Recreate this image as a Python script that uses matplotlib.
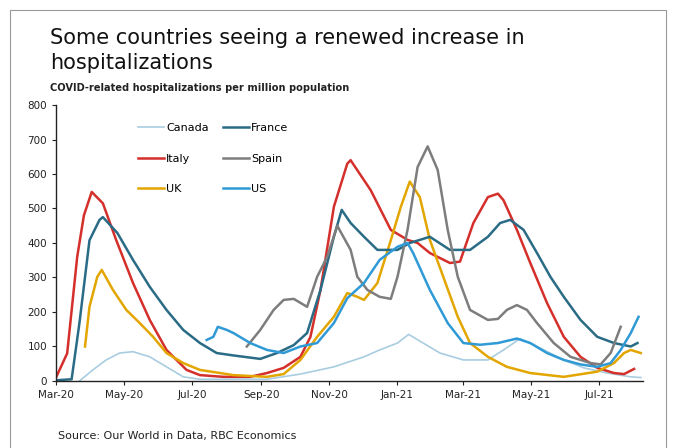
import matplotlib
matplotlib.use("Agg")
import matplotlib.pyplot as plt
import matplotlib.dates as mdates
from matplotlib.patches import Rectangle
import numpy as np
import pandas as pd

# values (hospitalizations per million)
italy_dates = ["2020-03-01", "2020-03-11", "2020-03-20", "2020-03-26", "2020-04-02", "2020-04-12",
               "2020-04-24", "2020-05-09", "2020-05-24", "2020-06-08", "2020-06-26", "2020-07-08",
               "2020-07-29", "2020-08-22", "2020-09-06", "2020-09-21", "2020-10-06", "2020-10-15",
               "2020-10-24", "2020-11-05", "2020-11-17", "2020-11-20", "2020-12-08", "2020-12-26",
               "2021-01-10", "2021-01-19", "2021-01-30", "2021-02-17", "2021-02-26", "2021-03-10",
               "2021-03-23", "2021-04-01", "2021-04-06", "2021-04-18", "2021-04-30", "2021-05-15",
               "2021-05-30", "2021-06-14", "2021-06-29", "2021-07-14", "2021-07-23", "2021-08-01"]
italy_vals = [10, 80, 360, 480, 548, 515, 408, 284, 177, 90, 32, 17, 12, 12, 23, 38, 70, 128,
              264, 505, 630, 640, 553, 438, 409, 400, 371, 342, 346, 458, 533, 543, 524, 438,
              342, 226, 128, 70, 38, 23, 20, 35]

france_dates = ["2020-03-01", "2020-03-15", "2020-03-22", "2020-03-31", "2020-04-09", "2020-04-12",
                "2020-04-25", "2020-05-09", "2020-05-24", "2020-06-08", "2020-06-23", "2020-07-08",
                "2020-07-23", "2020-08-07", "2020-08-31", "2020-09-15", "2020-09-30", "2020-10-12",
                "2020-10-24", "2020-11-05", "2020-11-12", "2020-11-20", "2020-12-02", "2020-12-14",
                "2021-01-01", "2021-01-12", "2021-01-30", "2021-02-17", "2021-03-07", "2021-03-23",
                "2021-04-03", "2021-04-12", "2021-04-24", "2021-05-06", "2021-05-18", "2021-05-30",
                "2021-06-14", "2021-06-29", "2021-07-14", "2021-07-29", "2021-08-04"]
france_vals = [2, 5, 168, 408, 467, 475, 429, 351, 273, 206, 148, 110, 81, 74, 64, 81, 104, 139,
               264, 418, 496, 458, 418, 380, 380, 400, 418, 380, 380, 418, 458, 467, 438, 371,
               302, 244, 177, 128, 110, 100, 110]

spain_dates = ["2020-08-19", "2020-08-31", "2020-09-12", "2020-09-21", "2020-09-30", "2020-10-12",
               "2020-10-21", "2020-10-30", "2020-11-08", "2020-11-20", "2020-11-26", "2020-12-05",
               "2020-12-16", "2020-12-26", "2021-01-01", "2021-01-10", "2021-01-19", "2021-01-28",
               "2021-02-06", "2021-02-15", "2021-02-24", "2021-03-07", "2021-03-23", "2021-04-01",
               "2021-04-09", "2021-04-18", "2021-04-27", "2021-05-06", "2021-05-21", "2021-06-05",
               "2021-06-23", "2021-07-02", "2021-07-11", "2021-07-20"]
spain_vals = [100, 148, 206, 235, 238, 215, 302, 360, 450, 380, 302, 264, 244, 238, 302, 438,
              620, 680, 612, 438, 302, 206, 177, 180, 206, 220, 206, 168, 110, 70, 52, 48, 81, 157]

uk_dates = ["2020-03-27", "2020-03-31", "2020-04-07", "2020-04-11", "2020-04-21", "2020-05-03",
            "2020-05-15", "2020-05-27", "2020-06-08", "2020-06-23", "2020-07-08", "2020-08-07",
            "2020-09-06", "2020-09-21", "2020-10-06", "2020-10-21", "2020-11-05", "2020-11-17",
            "2020-11-26", "2020-12-02", "2020-12-14", "2020-12-26", "2021-01-04", "2021-01-12",
            "2021-01-21", "2021-01-30", "2021-02-11", "2021-02-24", "2021-03-07", "2021-03-23",
            "2021-04-09", "2021-04-30", "2021-05-30", "2021-06-29", "2021-07-14", "2021-07-23",
            "2021-07-29", "2021-08-07"]
uk_vals = [100, 215, 302, 322, 264, 206, 168, 128, 81, 52, 32, 17, 12, 20, 61, 128, 186, 255,
           244, 235, 284, 408, 505, 578, 533, 409, 302, 186, 110, 70, 41, 23, 12, 27, 52, 81, 90, 81]

us_dates = ["2020-07-14", "2020-07-20", "2020-07-24", "2020-08-01", "2020-08-07", "2020-08-22",
            "2020-09-06", "2020-09-21", "2020-10-06", "2020-10-21", "2020-11-05", "2020-11-17",
            "2020-12-02", "2020-12-16", "2021-01-01", "2021-01-10", "2021-01-15", "2021-01-30",
            "2021-02-15", "2021-03-01", "2021-03-16", "2021-04-01", "2021-04-18", "2021-04-30",
            "2021-05-15", "2021-05-30", "2021-06-14", "2021-06-29", "2021-07-11", "2021-07-20",
            "2021-07-29", "2021-08-05"]
us_vals = [119, 128, 157, 148, 139, 110, 90, 81, 100, 110, 168, 240, 284, 351, 389, 400, 371,
           264, 168, 110, 105, 110, 123, 110, 81, 61, 48, 41, 52, 90, 139, 186]

canada_dates = ["2020-03-22", "2020-04-03", "2020-04-15", "2020-04-27", "2020-05-09", "2020-05-24",
                "2020-06-08", "2020-06-23", "2020-07-08", "2020-09-06", "2020-10-06", "2020-11-05",
                "2020-12-02", "2020-12-16", "2021-01-01", "2021-01-11", "2021-01-24", "2021-02-08",
                "2021-03-01", "2021-03-23", "2021-04-06", "2021-04-21", "2021-05-06", "2021-05-30",
                "2021-06-17", "2021-07-08", "2021-07-29", "2021-08-07"]
canada_vals = [0, 32, 61, 81, 85, 70, 41, 12, 5, 5, 20, 41, 70, 90, 110, 135, 110, 81, 61, 61,
               90, 123, 100, 61, 38, 23, 12, 10]

series = [
    ("Canada", canada_dates, canada_vals, "#a9cde0", 1.2),
    ("Italy", italy_dates, italy_vals, "#d42f2a", 1.8),
    ("UK", uk_dates, uk_vals, "#e3a600", 1.8),
    ("France", france_dates, france_vals, "#2a6b86", 1.8),
    ("Spain", spain_dates, spain_vals, "#7d7d7d", 1.8),
    ("US", us_dates, us_vals, "#2f9ad6", 1.8),
]

fig = plt.figure(figsize=(6.78, 4.48), dpi=100)
ax = fig.add_axes([0.0826, 0.1496, 0.8658, 0.616])

for name, d, v, c, lw in series:
    ax.plot(pd.to_datetime(d), v, color=c, lw=lw, label=name)

ax.set_ylim(0, 800)
ax.set_yticks(np.arange(0, 801, 100))
ax.set_xlim(pd.Timestamp("2020-03-01"), pd.Timestamp("2021-08-09"))
ax.xaxis.set_major_locator(mdates.MonthLocator(bymonth=[1, 3, 5, 7, 9, 11]))
ax.xaxis.set_major_formatter(mdates.DateFormatter("%b-%y"))
ax.tick_params(labelsize=7.5, length=3, width=0.8, colors="#222222")
for s in ["top", "right"]:
    ax.spines[s].set_visible(False)
for s in ["left", "bottom"]:
    ax.spines[s].set_linewidth(1.0)
    ax.spines[s].set_color("#222222")

ax.legend(ncol=2, loc="upper left", bbox_to_anchor=(0.14, 0.935), frameon=False,
          fontsize=8, handlelength=2.3, handletextpad=0.2, labelspacing=1.85,
          columnspacing=1.3, borderpad=0, borderaxespad=0)

fig.text(50 / 678, 1 - 38 / 448, "Some countries seeing a renewed increase in",
         fontsize=15, va="center", ha="left", color="#111111")
fig.text(50 / 678, 1 - 63 / 448, "hospitalizations",
         fontsize=15, va="center", ha="left", color="#111111")
fig.text(50 / 678, 1 - 88 / 448, "COVID-related hospitalizations per million population",
         fontsize=7.1, fontweight="bold", va="center", ha="left", color="#222222")
fig.text(58 / 678, 1 - 436 / 448, "Source: Our World in Data, RBC Economics",
         fontsize=8, va="center", ha="left", color="#222222")

fig.patches.append(Rectangle((10 / 678, -0.02), 656 / 678, 1 - 10 / 448 + 0.02,
                             transform=fig.transFigure, fill=False, ec="#9a9a9a", lw=0.8))

fig.savefig("out.png", dpi=100)
